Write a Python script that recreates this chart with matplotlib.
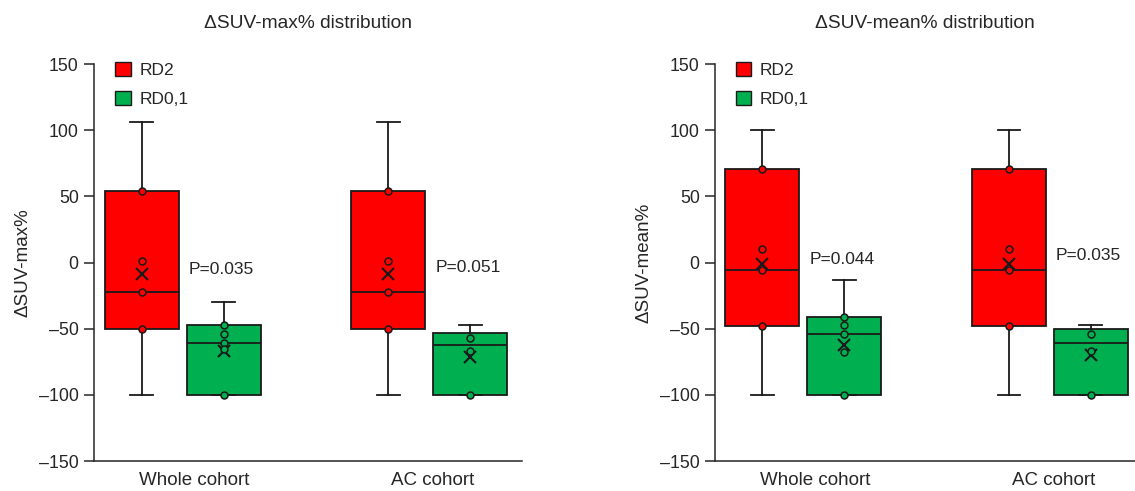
import matplotlib
matplotlib.use("Agg")
import matplotlib.pyplot as plt
from matplotlib.patches import Patch

plt.rcParams['font.family'] = ['Liberation Sans', 'DejaVu Sans']
plt.rcParams['text.color'] = '#262626'
plt.rcParams['axes.labelcolor'] = '#262626'
plt.rcParams['xtick.color'] = '#262626'
plt.rcParams['ytick.color'] = '#262626'

# ---------------- data ----------------
categories = ["Whole cohort", "AC cohort"]
groups = ["RD2", "RD0,1"]
colors = ["#FF0000", "#00B050"]

titles = ["\u0394SUV-max% distribution", "\u0394SUV-mean% distribution"]
ylabels = ["\u0394SUV-max%", "\u0394SUV-mean%"]

# box stats: [whislo, q1, median, q3, whishi, mean]
max_whole_rd2 = [-100, -50, -22, 54, 106, -9]
max_whole_rd01 = [-100, -100, -61, -47, -30, -67]
max_ac_rd2 = [-100, -50, -22, 54, 106, -9]
max_ac_rd01 = [-100, -100, -62, -53, -47, -71.5]

mean_whole_rd2 = [-100, -48, -6, 71, 100, -1.5]
mean_whole_rd01 = [-100, -100, -54, -41.5, -13, -62.5]
mean_ac_rd2 = [-100, -48, -6, 71, 100, -1]
mean_ac_rd01 = [-100, -100, -61, -50, -47, -70]

# inner points
max_whole_rd2_pts = [54, 1, -22, -50]
max_whole_rd01_pts = [-47, -54, -61, -65, -100]
max_ac_rd2_pts = [54, 1, -22, -50]
max_ac_rd01_pts = [-57, -66.5, -100]

mean_whole_rd2_pts = [71, 10.5, -6, -48]
mean_whole_rd01_pts = [-41.5, -47, -54, -68, -100]
mean_ac_rd2_pts = [71, 10.5, -6, -48]
mean_ac_rd01_pts = [-54, -67, -100]

p_values_max = ["P=0.035", "P=0.051"]
p_values_mean = ["P=0.044", "P=0.035"]
p_y_max = [-5, -4]
p_y_mean = [2.3, 5]

yticks = [-150, -100, -50, 0, 50, 100, 150]

panels = [
    dict(stats=[[max_whole_rd2, max_whole_rd01], [max_ac_rd2, max_ac_rd01]],
         pts=[[max_whole_rd2_pts, max_whole_rd01_pts], [max_ac_rd2_pts, max_ac_rd01_pts]],
         p=p_values_max, py=p_y_max),
    dict(stats=[[mean_whole_rd2, mean_whole_rd01], [mean_ac_rd2, mean_ac_rd01]],
         pts=[[mean_whole_rd2_pts, mean_whole_rd01_pts], [mean_ac_rd2_pts, mean_ac_rd01_pts]],
         p=p_values_mean, py=p_y_mean),
]

# ---------------- layout ----------------
W, H = 1135, 491
fig = plt.figure(figsize=(W / 100, H / 100), dpi=100)
axes_px = [(94, 522), (715, 1135)]
top_px, bot_px = 64, 461
xlims = [(-0.193, 1.542), (-0.192, 1.511)]
offset = 0.332
box_w = 0.30
cap_w = 0.093

for k, panel in enumerate(panels):
    x0, x1 = axes_px[k]
    ax = fig.add_axes([x0 / W, 1 - bot_px / H, (x1 - x0) / W, (bot_px - top_px) / H])
    for ci in range(len(categories)):
        for gi in range(len(groups)):
            s = panel["stats"][ci][gi]
            pos = ci + gi * offset
            st = dict(whislo=s[0], q1=s[1], med=s[2], q3=s[3], whishi=s[4], mean=s[5], fliers=[])
            ax.bxp([st], positions=[pos], widths=box_w, patch_artist=True,
                   showmeans=True, showfliers=False, capwidths=[cap_w],
                   boxprops=dict(facecolor=colors[gi], edgecolor='#1a1a1a', linewidth=1.3),
                   medianprops=dict(color='#1a1a1a', linewidth=1.3),
                   whiskerprops=dict(color='#1a1a1a', linewidth=1.3),
                   capprops=dict(color='#1a1a1a', linewidth=1.3),
                   meanprops=dict(marker='x', markeredgecolor='#1a1a1a', markersize=9,
                                  markeredgewidth=1.5),
                   manage_ticks=False, zorder=2)
            pts = panel["pts"][ci][gi]
            ax.plot([pos] * len(pts), pts, linestyle='none', marker='o', markersize=5,
                    markerfacecolor=colors[gi], markeredgecolor='#1a1a1a',
                    markeredgewidth=1.1, zorder=4)
        ax.text(ci + 0.19, panel["py"][ci], panel["p"][ci], fontsize=12.5,
                ha='left', va='center')

    ax.set_xlim(*xlims[k])
    ax.set_ylim(-150, 150)
    ax.set_yticks(yticks)
    ax.set_yticklabels([str(v).replace('-', '\u2013') for v in yticks], fontsize=12.8)
    ax.set_xticks([0.215, 1.18])
    ax.set_xticklabels(categories, fontsize=13.5)
    ax.tick_params(axis='x', length=0, pad=8)
    ax.tick_params(axis='y', length=7, width=1.1, pad=4, direction='out')
    for sp in ['top', 'right']:
        ax.spines[sp].set_visible(False)
    for sp in ['left', 'bottom']:
        ax.spines[sp].set_linewidth(1.1)
        ax.spines[sp].set_color('#262626')
    ax.set_ylabel(ylabels[k], fontsize=13.5, labelpad=5)
    ax.set_title(titles[k], fontsize=13.8, pad=26)

    handles = [Patch(facecolor=colors[i], edgecolor='#1a1a1a', linewidth=1.0) for i in range(2)]
    ax.legend(handles, groups, loc='upper left', bbox_to_anchor=(0.049, 1.005),
              frameon=False, fontsize=12.5, handlelength=0.9, handleheight=0.9,
              handletextpad=0.5, labelspacing=0.72, borderpad=0, borderaxespad=0)

fig.savefig("out.png", dpi=100)
